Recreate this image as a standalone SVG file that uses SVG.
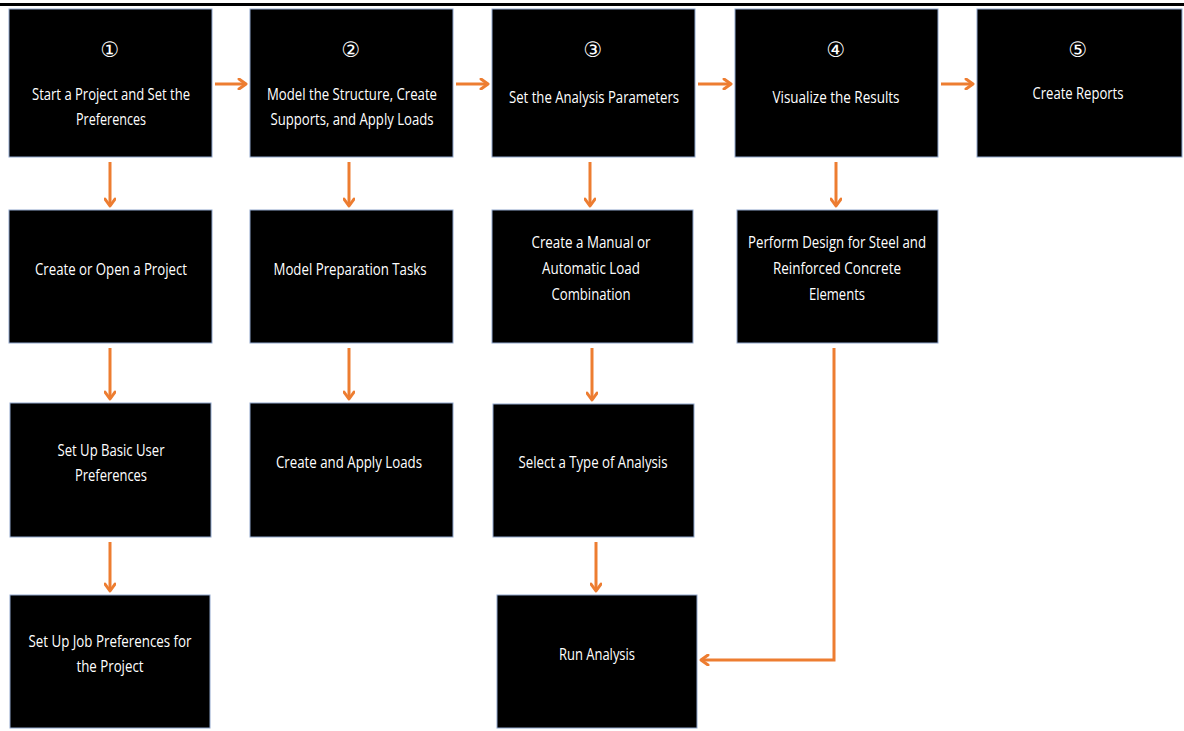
<svg xmlns="http://www.w3.org/2000/svg" width="1184" height="731" viewBox="0 0 1184 731">
<style>
.box{fill:#000;stroke:#8fa6cc;stroke-width:1}
.t{fill:#fff;font-family:"Open Sans","Noto Sans","Liberation Sans",sans-serif;font-size:16px;text-anchor:middle}
.n{fill:#fff;font-family:"DejaVu Sans","Noto Sans",sans-serif;font-size:21px;text-anchor:middle}
.c{fill:none;stroke:#ed7d31;stroke-width:3;marker-end:url(#ah)}
</style>
<defs>
<marker id="ah" markerWidth="12" markerHeight="12" refX="9" refY="6" orient="auto" markerUnits="userSpaceOnUse">
<path d="M2,1 L9,6 L2,11" fill="none" stroke="#ed7d31" stroke-width="3" stroke-linecap="round" stroke-linejoin="round"/>
</marker>
</defs>
<rect x="0" y="0" width="1184" height="731" fill="#fff"/>
<rect x="0" y="3" width="1184" height="3" fill="#000"/>

<g id="n1"><rect class="box" x="9" y="9" width="203" height="148"/>
<text class="n" x="110" y="57">①</text>
<text class="t" x="111" y="100" textLength="158" lengthAdjust="spacingAndGlyphs">Start a Project and Set the</text>
<text class="t" x="111" y="125" textLength="70" lengthAdjust="spacingAndGlyphs">Preferences</text></g>

<g id="n2"><rect class="box" x="250" y="9" width="203" height="148"/>
<text class="n" x="351" y="57">②</text>
<text class="t" x="352" y="100" textLength="170" lengthAdjust="spacingAndGlyphs">Model the Structure, Create</text>
<text class="t" x="352" y="125" textLength="163" lengthAdjust="spacingAndGlyphs">Supports, and Apply Loads</text></g>

<g id="n3"><rect class="box" x="492" y="9" width="203" height="148"/>
<text class="n" x="593" y="57">③</text>
<text class="t" x="594" y="103" textLength="170" lengthAdjust="spacingAndGlyphs">Set the Analysis Parameters</text></g>

<g id="n4"><rect class="box" x="735" y="9" width="203" height="148"/>
<text class="n" x="836" y="57">④</text>
<text class="t" x="836" y="103" textLength="127" lengthAdjust="spacingAndGlyphs">Visualize the Results</text></g>

<g id="n5"><rect class="box" x="977" y="9" width="205" height="148"/>
<text class="n" x="1078" y="57">⑤</text>
<text class="t" x="1078" y="99" textLength="91" lengthAdjust="spacingAndGlyphs">Create Reports</text></g>

<g id="n6"><rect class="box" x="9" y="210" width="203" height="133"/>
<text class="t" x="111" y="275" textLength="152" lengthAdjust="spacingAndGlyphs">Create or Open a Project</text></g>

<g id="n7"><rect class="box" x="250" y="210" width="203" height="133"/>
<text class="t" x="350" y="275" textLength="153" lengthAdjust="spacingAndGlyphs">Model Preparation Tasks</text></g>

<g id="n8"><rect class="box" x="492" y="210" width="201" height="133"/>
<text class="t" x="591" y="248" textLength="119" lengthAdjust="spacingAndGlyphs">Create a Manual or</text>
<text class="t" x="591" y="274" textLength="98" lengthAdjust="spacingAndGlyphs">Automatic Load</text>
<text class="t" x="591" y="300" textLength="79" lengthAdjust="spacingAndGlyphs">Combination</text></g>

<g id="n9"><rect class="box" x="737" y="210" width="201" height="133"/>
<text class="t" x="837" y="248" textLength="178" lengthAdjust="spacingAndGlyphs">Perform Design for Steel and</text>
<text class="t" x="837" y="274" textLength="128" lengthAdjust="spacingAndGlyphs">Reinforced Concrete</text>
<text class="t" x="837" y="300" textLength="56" lengthAdjust="spacingAndGlyphs">Elements</text></g>

<g id="n10"><rect class="box" x="10" y="403" width="201" height="134"/>
<text class="t" x="111" y="456" textLength="107" lengthAdjust="spacingAndGlyphs">Set Up Basic User</text>
<text class="t" x="111" y="481" textLength="72" lengthAdjust="spacingAndGlyphs">Preferences</text></g>

<g id="n11"><rect class="box" x="250" y="403" width="203" height="134"/>
<text class="t" x="349" y="468" textLength="146" lengthAdjust="spacingAndGlyphs">Create and Apply Loads</text></g>

<g id="n12"><rect class="box" x="493" y="404" width="201" height="133"/>
<text class="t" x="593" y="468" textLength="149" lengthAdjust="spacingAndGlyphs">Select a Type of Analysis</text></g>

<g id="n13"><rect class="box" x="10" y="595" width="200" height="133"/>
<text class="t" x="110" y="647" textLength="163" lengthAdjust="spacingAndGlyphs">Set Up Job Preferences for</text>
<text class="t" x="110" y="672" textLength="67" lengthAdjust="spacingAndGlyphs">the Project</text></g>

<g id="n14"><rect class="box" x="497" y="595" width="200" height="133"/>
<text class="t" x="597" y="660" textLength="76" lengthAdjust="spacingAndGlyphs">Run Analysis</text></g>

<g id="connectors">
<line class="c" x1="215" y1="84" x2="246" y2="84"/>
<line class="c" x1="456" y1="84" x2="488" y2="84"/>
<line class="c" x1="698" y1="84" x2="731" y2="84"/>
<line class="c" x1="941" y1="84" x2="973" y2="84"/>
<line class="c" x1="110" y1="162" x2="110" y2="206"/>
<line class="c" x1="110" y1="348" x2="110" y2="399"/>
<line class="c" x1="110" y1="542" x2="110" y2="591"/>
<line class="c" x1="349" y1="162" x2="349" y2="206"/>
<line class="c" x1="349" y1="348" x2="349" y2="399"/>
<line class="c" x1="590" y1="162" x2="590" y2="206"/>
<line class="c" x1="592" y1="348" x2="592" y2="400"/>
<line class="c" x1="596" y1="542" x2="596" y2="591"/>
<line class="c" x1="836" y1="162" x2="836" y2="206"/>
<polyline class="c" points="834,348 834,660 701,660"/>
</g>
</svg>
